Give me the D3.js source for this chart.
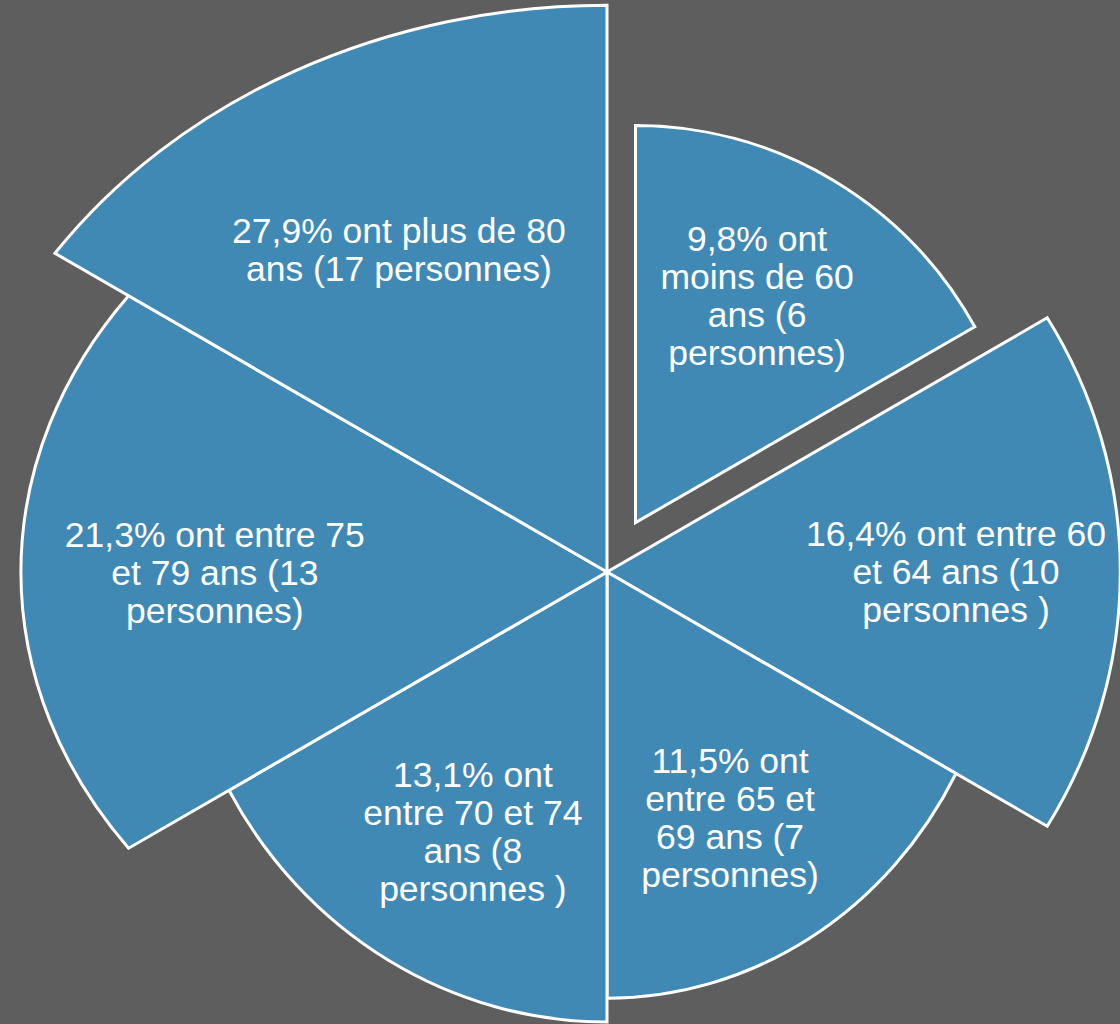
<!DOCTYPE html>
<html>
<head>
<meta charset="utf-8">
<script src="https://cdn.jsdelivr.net/npm/d3@7"></script>
<style>
  html, body { margin: 0; padding: 0; background: #5E5E5E; }
  svg { display: block; }
</style>
</head>
<body>
<script>
// ---- data ----
const categories = ["moins de 60 ans", "60 à 64 ans", "65 à 69 ans", "70 à 74 ans", "75 à 79 ans", "80 ans et plus"];
const percents = [9.8, 16.4, 11.5, 13.1, 21.3, 27.9];
const persons = [6, 10, 7, 8, 13, 17];
const labelLines = [
  ["9,8% ont", "moins de 60", "ans (6", "personnes)"],
  ["16,4% ont entre 60", "et 64 ans (10", "personnes )"],
  ["11,5% ont", "entre 65 et", "69 ans (7", "personnes)"],
  ["13,1% ont", "entre 70 et 74", "ans (8", "personnes )"],
  ["21,3% ont entre 75", "et 79 ans (13", "personnes)"],
  ["27,9% ont plus de 80", "ans (17 personnes)"]
];

// ---- layout (not data) ----
const W = 1120, H = 1024;
const cx = 607, cy = 572;
const explode = [57, 0, 0, 0, 0, 0];
const stretchX = [1.038, 1.056, 0.973, 0.995, 1.058, 1.053];
const stretchY = [1.057, 1.017, 1.047, 1.036, 0.863, 0.894];
const labelFrac = [0.687, 0.718, 0.673, 0.671, 0.708, 0.606];
const labelAngleShift = [-1.9, -0.2, 3.3, -2.6, 0, -2.8];
const fill = "#4189B5";
const lineH = 38;

const data = categories.map((c, i) => ({
  cat: c, value: percents[i], n: persons[i], lines: labelLines[i], i
}));

const rScale = d3.scaleSqrt().domain([0, d3.max(percents)]).range([0, 634]);
const step = 2 * Math.PI / data.length;

const svg = d3.select("body").append("svg")
  .attr("width", W).attr("height", H);
svg.append("rect").attr("width", W).attr("height", H).attr("fill", "#5E5E5E");

const g = svg.append("g").attr("transform", `translate(${cx},${cy})`);

function warp(t, sx, sy) {
  let p = Math.atan2(sy * Math.sin(t), sx * Math.cos(t));
  while (p < t - Math.PI) p += 2 * Math.PI;
  return p;
}

const arcGen = d3.arc().innerRadius(0);

data.forEach(d => {
  const i = d.i;
  const t0 = i * step, t1 = (i + 1) * step, tm = (t0 + t1) / 2;
  const sx = stretchX[i], sy = stretchY[i];
  const r = rScale(d.value);
  const ox = explode[i] * Math.sin(tm), oy = -explode[i] * Math.cos(tm);
  d.ox = ox; d.oy = oy; d.r = r; d.tm = tm; d.sx = sx; d.sy = sy;
  g.append("path")
    .attr("d", arcGen.outerRadius(r).startAngle(warp(t0, sx, sy)).endAngle(warp(t1, sx, sy))())
    .attr("transform", `translate(${ox},${oy}) scale(${sx},${sy})`)
    .attr("fill", fill)
    .attr("stroke", "#FFFFFF")
    .attr("stroke-width", 3)
    .attr("stroke-linejoin", "miter")
    .attr("vector-effect", "non-scaling-stroke");
});

// labels
data.forEach(d => {
  const i = d.i;
  const ang = d.tm + labelAngleShift[i] * Math.PI / 180;
  const dist = d.r * labelFrac[i];
  const lx = d.ox + dist * Math.sin(ang);
  const ly = d.oy - dist * Math.cos(ang);
  const n = d.lines.length;
  const t = g.append("text")
    .attr("text-anchor", "middle")
    .attr("fill", "#FFFFFF")
    .attr("font-family", "'Liberation Sans', Arial, sans-serif")
    .attr("font-size", 35.5);
  d.lines.forEach((line, k) => {
    t.append("tspan")
      .attr("x", lx)
      .attr("y", ly + (k - (n - 1) / 2) * lineH)
      .attr("dy", "0.36em")
      .text(line);
  });
});
</script>
</body>
</html>
